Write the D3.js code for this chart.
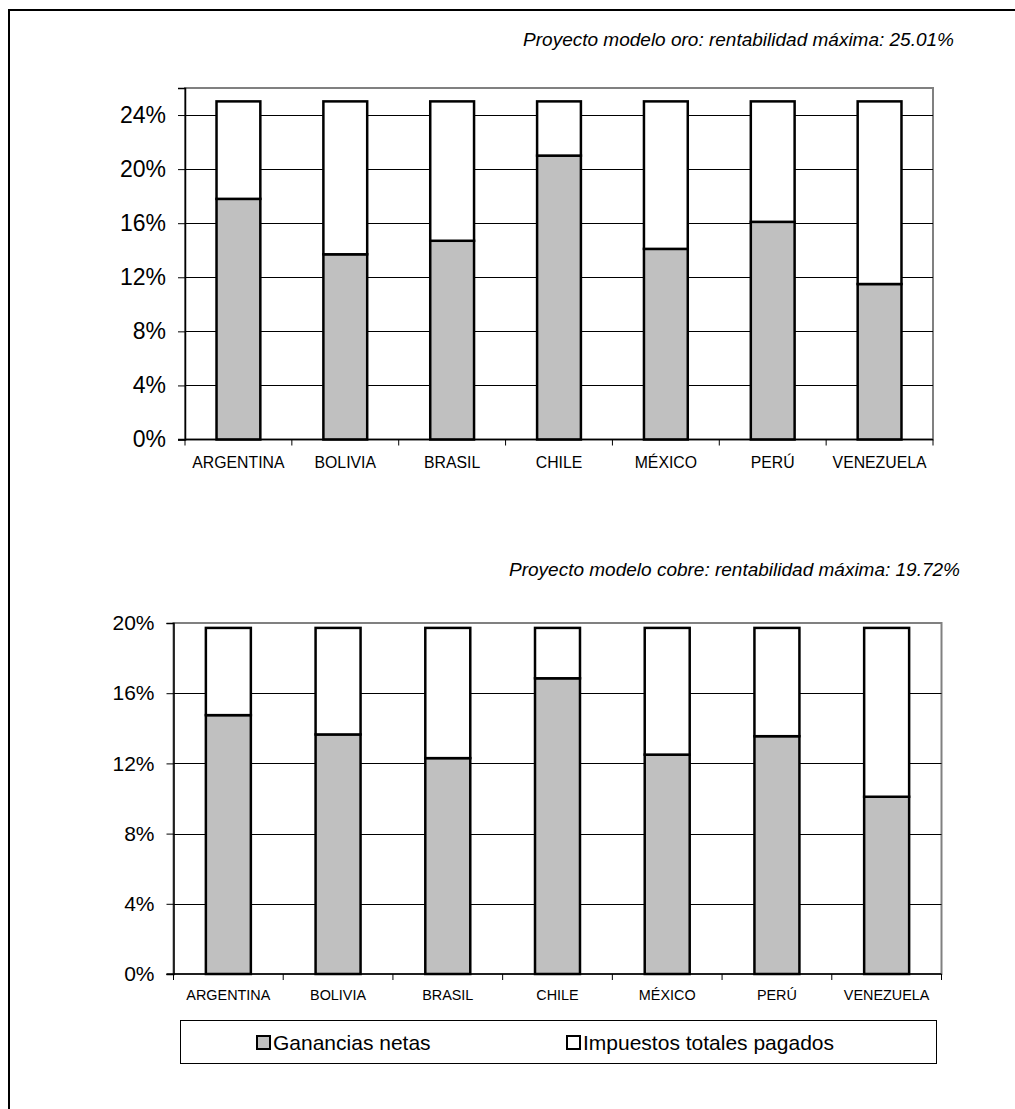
<!DOCTYPE html>
<html>
<head>
<meta charset="utf-8">
<script src="https://cdn.jsdelivr.net/npm/d3@7"></script>
<style>
  html, body { margin: 0; padding: 0; background: #fff; }
  svg { display: block; }
  text { font-family: "Liberation Sans", Arial, sans-serif; fill: #000; }
</style>
</head>
<body>
<svg id="chart" width="1015" height="1109"></svg>
<script>
// Countries shown on both panels
const paises = ["ARGENTINA", "BOLIVIA", "BRASIL", "CHILE", "MÉXICO", "PERÚ", "VENEZUELA"];

// Gold model project: maximum profitability 25.01%
const oroMaxima = 25.01;
const oroGanancias = [17.8, 13.7, 14.7, 21.0, 14.1, 16.1, 11.5];
const oroImpuestos = oroGanancias.map(g => +(oroMaxima - g).toFixed(2));
const oroTicks = [0, 4, 8, 12, 16, 20, 24];

// Copper model project: maximum profitability 19.72%
const cobreMaxima = 19.72;
const cobreGanancias = [14.75, 13.65, 12.3, 16.85, 12.5, 13.55, 10.1];
const cobreImpuestos = cobreGanancias.map(g => +(cobreMaxima - g).toFixed(2));
const cobreTicks = [0, 4, 8, 12, 16, 20];

const series = ["Ganancias netas", "Impuestos totales pagados"];
const fills = ["#c0c0c0", "#ffffff"];

const svg = d3.select("#chart");

// outer frame
svg.append("rect")
  .attr("x", 9).attr("y", 10)
  .attr("width", 1100).attr("height", 1200)
  .attr("fill", "none").attr("stroke", "#000").attr("stroke-width", 2);

function panel(opts) {
  const { left, right, top, bottom, yMax, ticks, ganancias, impuestos,
          title, titleX, titleY, labelY, tickFont, labelFont } = opts;
  const g = svg.append("g");

  const x = d3.scaleBand().domain(paises).range([left, right])
    .paddingInner(0.59).paddingOuter(0.295);
  const y = d3.scaleLinear().domain([0, yMax]).range([bottom, top]);

  // plot area border (grey top/right edges)
  g.append("rect")
    .attr("x", left).attr("y", top)
    .attr("width", right - left).attr("height", bottom - top)
    .attr("fill", "none").attr("stroke", "#808080").attr("stroke-width", 2);

  // gridlines
  g.selectAll(".grid").data(ticks.filter(t => t > 0 && y(t) > top + 1)).join("line")
    .attr("x1", left).attr("x2", right)
    .attr("y1", d => Math.round(y(d)) + 0.5).attr("y2", d => Math.round(y(d)) + 0.5)
    .attr("stroke", "#000").attr("stroke-width", 1);

  // stacked bars
  const rows = paises.map((p, i) => ({ pais: p, ganancias: ganancias[i], impuestos: impuestos[i] }));
  const stacked = d3.stack().keys(["ganancias", "impuestos"])(rows);
  g.selectAll(".serie").data(stacked).join("g")
    .attr("fill", (d, i) => fills[i])
    .selectAll("rect").data(d => d).join("rect")
      .attr("x", d => x(d.data.pais))
      .attr("width", x.bandwidth())
      .attr("y", d => y(d[1]))
      .attr("height", d => y(d[0]) - y(d[1]))
      .attr("stroke", "#000").attr("stroke-width", 2.5);

  // y axis
  const yAxis = d3.axisLeft(y).tickValues(ticks).tickSize(7).tickPadding(12)
    .tickFormat(d => d + "%");
  const ya = g.append("g").attr("transform", `translate(${left},0)`).call(yAxis);
  ya.select(".domain").attr("stroke", "#000").attr("stroke-width", 1.5);
  ya.selectAll(".tick line").attr("stroke", "#000");
  ya.selectAll(".tick text").attr("font-size", tickFont).attr("font-family", "Liberation Sans, Arial, sans-serif");

  // x axis: tick marks at category boundaries
  const xa = g.append("g").attr("transform", `translate(0,${bottom})`);
  xa.append("line").attr("x1", left - 7).attr("x2", right)
    .attr("y1", 0).attr("y2", 0).attr("stroke", "#000").attr("stroke-width", 1.5);
  const step = x.step();
  const bounds = d3.range(paises.length + 1).map(i => left + i * step);
  xa.selectAll(".xt").data(bounds).join("line")
    .attr("x1", d => d).attr("x2", d => d).attr("y1", 0).attr("y2", 6)
    .attr("stroke", "#000").attr("stroke-width", 1);
  xa.selectAll(".xl").data(paises).join("text")
    .attr("x", d => x(d) + x.bandwidth() / 2)
    .attr("y", labelY)
    .attr("text-anchor", "middle")
    .attr("font-size", labelFont)
    .text(d => d);

  // title
  svg.append("text")
    .attr("x", titleX).attr("y", titleY)
    .attr("text-anchor", "end")
    .attr("font-size", 19).attr("font-style", "italic")
    .text(title);
}

panel({
  left: 185, right: 933, top: 88, bottom: 439.5,
  yMax: 26, ticks: oroTicks,
  ganancias: oroGanancias, impuestos: oroImpuestos,
  title: `Proyecto modelo oro: rentabilidad máxima: ${oroMaxima.toFixed(2)}%`,
  titleX: 954, titleY: 46, labelY: 28, tickFont: 23, labelFont: 15.8
});

panel({
  left: 173.5, right: 941.5, top: 623, bottom: 974,
  yMax: 20, ticks: cobreTicks,
  ganancias: cobreGanancias, impuestos: cobreImpuestos,
  title: `Proyecto modelo cobre: rentabilidad máxima: ${cobreMaxima.toFixed(2)}%`,
  titleX: 960, titleY: 576, labelY: 26, tickFont: 21, labelFont: 14.4
});

// legend
const leg = svg.append("g");
leg.append("rect")
  .attr("x", 180.5).attr("y", 1020.5).attr("width", 756).attr("height", 43)
  .attr("fill", "#fff").attr("stroke", "#000").attr("stroke-width", 1);
const legX = [257, 567];
series.forEach((s, i) => {
  leg.append("rect")
    .attr("x", legX[i]).attr("y", 1036).attr("width", 13).attr("height", 13)
    .attr("fill", fills[i]).attr("stroke", "#000").attr("stroke-width", 2);
  leg.append("text")
    .attr("x", legX[i] + 16).attr("y", 1050)
    .attr("font-size", 21)
    .text(s);
});
</script>
</body>
</html>
